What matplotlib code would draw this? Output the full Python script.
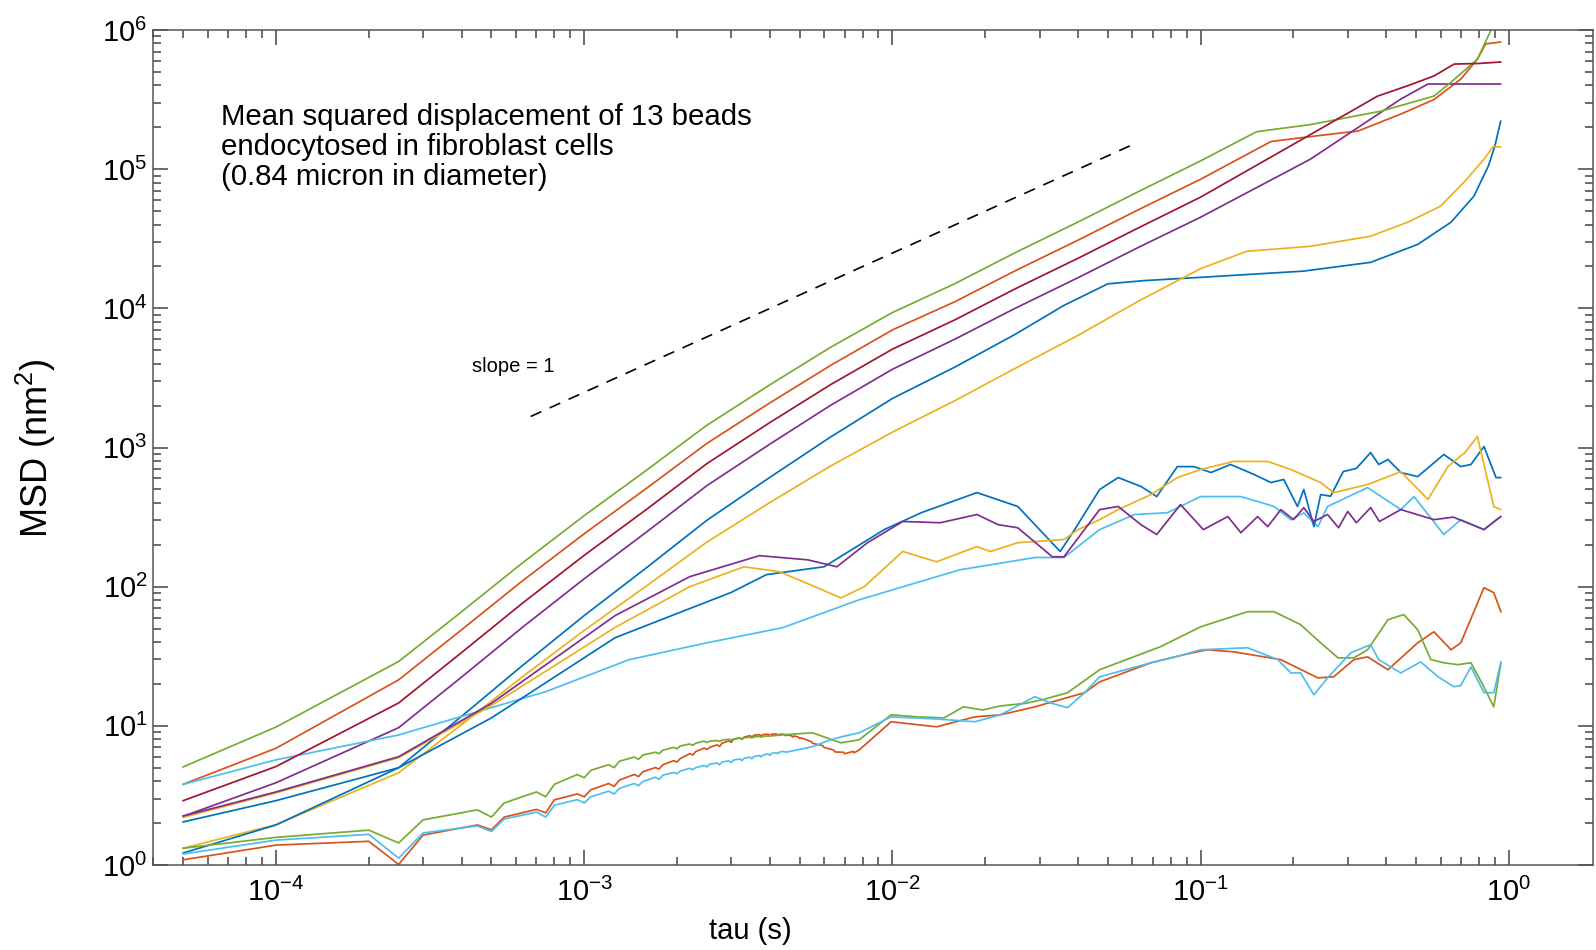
import matplotlib
matplotlib.use('Agg')
import matplotlib.pyplot as plt
from matplotlib.ticker import LogLocator, NullFormatter
import numpy as np

plt.rcParams['font.family'] = ['Liberation Sans', 'DejaVu Sans']
plt.rcParams['mathtext.fontset'] = 'custom'
plt.rcParams['mathtext.rm'] = 'Liberation Sans'
plt.rcParams['mathtext.it'] = 'Liberation Sans:italic'
plt.rcParams['mathtext.bf'] = 'Liberation Sans:bold'
plt.rcParams['axes.unicode_minus'] = False

# MATLAB default line colours
c_blue = '#0072BD'
c_orange = '#D95319'
c_yellow = '#EDB120'
c_purple = '#7E2F8E'
c_green = '#77AC30'
c_lblue = '#4DBEEE'
c_dred = '#A2142F'

# %% upper group (diffusive beads)
tau_up = [5e-5, 1e-4, 2.5e-4, 4e-4, 6.3e-4, 1e-3, 1.6e-3, 2.5e-3, 4e-3, 6.3e-3,
          1e-2, 1.6e-2, 2.5e-2, 4e-2, 6.3e-2, 0.1]

tau_green_up = tau_up + [0.152, 0.227, 0.384, 0.571, 0.65, 0.79, 0.875, 0.95]
msd_green_up = [5.07, 9.8, 29, 66, 148, 324, 692, 1445, 2820, 5250,
                9330, 15100, 25100, 41700, 69200, 114800,
                186000, 209000, 261000, 335000, 423000, 617000, 1000000, 1580000]

tau_orange_up = tau_up + [0.169, 0.235, 0.324, 0.446, 0.571, 0.698, 0.79, 0.84, 0.94]
msd_orange_up = [3.8, 6.9, 21.4, 49, 110, 240, 513, 1070, 2090, 3890,
                 7000, 11200, 18600, 30900, 51300, 84700,
                 158000, 173000, 188000, 249000, 316000, 444000, 617000, 794000, 820000]

tau_dred_up = tau_up + [0.2, 0.375, 0.47, 0.571, 0.664, 0.8, 0.94]
msd_dred_up = [2.9, 5.1, 14.6, 33.6, 76, 168, 362, 766, 1510, 2830,
               5090, 8300, 13800, 22900, 38000, 63000,
               151000, 335000, 398000, 467000, 569000, 575000, 589000]

tau_purple_up = tau_up + [0.227, 0.446, 0.546, 0.94]
msd_purple_up = [2.24, 3.9, 9.7, 22.4, 51, 114, 249, 532, 1057, 2010,
                 3650, 6030, 10000, 16600, 27500, 45200,
                 118000, 319000, 409000, 409000]

tau_blue_up = [5e-5, 1e-4, 2.5e-4, 4e-4, 6.3e-4, 1e-3, 1.6e-3, 2.5e-3, 4e-3, 6.3e-3,
               1e-2, 1.6e-2, 2.5e-2, 3.6e-2, 0.05, 0.065, 0.1,
               0.215, 0.356, 0.506, 0.649, 0.77, 0.857, 0.9, 0.94]
msd_blue_up = [2.04, 2.9, 5.0, 11.7, 27.1, 62, 138, 300, 610, 1190,
               2250, 3800, 6500, 10500, 15000, 15800, 16700,
               18500, 21400, 28800, 41600, 64000, 105000, 146000, 221000]

tau_yellow_up = tau_up + [0.141, 0.227, 0.356, 0.47, 0.6, 0.73, 0.83, 0.89, 0.94]
msd_yellow_up = [1.32, 1.95, 4.6, 10.2, 22.5, 48.5, 102, 209, 402, 736,
                 1290, 2180, 3700, 6400, 11300, 19300,
                 25700, 27900, 33000, 41600, 54200, 84700, 118000, 146000, 144000]

# %% middle group
tau_blue_mid = [5e-5, 1e-4, 2.5e-4, 5e-4, 1.26e-3, 3e-3, 3.9e-3, 6e-3, 9.4e-3, 0.0124,
                0.0188, 0.0255, 0.035, 0.039, 0.047, 0.054, 0.064, 0.072, 0.084, 0.095,
                0.108, 0.125, 0.149, 0.169, 0.186, 0.206, 0.216, 0.233, 0.245, 0.264,
                0.29, 0.32, 0.356, 0.378, 0.405, 0.446, 0.506, 0.615, 0.698, 0.753,
                0.83, 0.908, 0.94]
msd_blue_mid = [1.22, 1.94, 5.0, 11.4, 43, 91, 122, 139, 257, 340,
                474, 377, 179, 257, 499, 608, 525, 444, 729, 729,
                661, 755, 640, 560, 589, 377, 499, 270, 459, 447,
                671, 708, 920, 755, 820, 661, 618, 891, 729, 755,
                1016, 608, 608]

tau_purple_mid = [5e-5, 1e-4, 2.5e-4, 5e-4, 1.26e-3, 2.2e-3, 3.7e-3, 5.3e-3, 6.6e-3, 8.3e-3,
                  0.0108, 0.0143, 0.0188, 0.022, 0.0255, 0.033, 0.036, 0.047, 0.054, 0.064,
                  0.072, 0.086, 0.102, 0.1225, 0.135, 0.153, 0.165, 0.182, 0.2, 0.216,
                  0.233, 0.258, 0.28, 0.3, 0.32, 0.356, 0.38, 0.446, 0.571, 0.66,
                  0.83, 0.94]
msd_purple_mid = [2.25, 3.35, 6.0, 14.5, 62, 118, 167, 156, 139, 207,
                  294, 288, 330, 279, 265, 164, 164, 358, 377, 279,
                  237, 389, 257, 319, 244, 319, 270, 358, 303, 370,
                  294, 330, 265, 347, 288, 370, 294, 358, 303, 316,
                  257, 319]

tau_yellow_mid = [5e-5, 1e-4, 2.5e-4, 5e-4, 1.26e-3, 2.2e-3, 3.3e-3, 4.3e-3, 5.6e-3, 6.8e-3,
                  8.1e-3, 0.0108, 0.0139, 0.0188, 0.0208, 0.0255, 0.036, 0.04, 0.047, 0.054,
                  0.069, 0.084, 0.1, 0.128, 0.165, 0.196, 0.245, 0.27, 0.348, 0.446,
                  0.546, 0.634, 0.72, 0.79, 0.893, 0.94]
msd_yellow_mid = [2.2, 3.3, 5.9, 14, 51, 100, 139, 128, 100, 83,
                  100, 179, 151, 194, 179, 207, 218, 257, 303, 358,
                  459, 608, 695, 794, 794, 695, 560, 474, 542, 671,
                  423, 729, 920, 1200, 377, 358]

tau_lblue_mid = [5e-5, 1e-4, 2.5e-4, 7.5e-4, 1.4e-3, 2.5e-3, 4.4e-3, 7.8e-3, 0.0165, 0.029,
                 0.036, 0.047, 0.061, 0.078, 0.1, 0.135, 0.173, 0.196, 0.216, 0.24,
                 0.258, 0.348, 0.446, 0.492, 0.615, 0.698, 0.83, 0.94]
msd_lblue_mid = [3.8, 5.7, 8.6, 17.6, 29.9, 39.5, 50.7, 80.5, 132, 162,
                 162, 257, 330, 340, 444, 444, 377, 303, 339, 270,
                 377, 515, 358, 444, 237, 303, 257, 319]

# %% lower group (stuck beads, 4 kHz ripple)
tau_early = [5e-5, 1e-4, 2e-4, 2.5e-4, 3e-4, 4.5e-4, 5e-4, 5.5e-4, 7e-4, 7.5e-4,
             8e-4, 9.5e-4, 1e-3, 1.05e-3, 1.2e-3, 1.25e-3, 1.3e-3, 1.45e-3, 1.5e-3, 1.55e-3,
             1.7e-3, 1.75e-3, 1.8e-3, 1.95e-3, 2e-3, 2.05e-3, 2.2e-3, 2.25e-3, 2.3e-3, 2.45e-3,
             2.5e-3]
tau_ripple = [2.55e-3, 2.7e-3, 2.75e-3, 2.8e-3, 2.95e-3, 3e-3, 3.05e-3, 3.2e-3, 3.25e-3, 3.3e-3,
              3.45e-3, 3.5e-3, 3.55e-3, 3.7e-3, 3.75e-3, 3.8e-3, 3.95e-3, 4e-3, 4.05e-3, 4.2e-3,
              4.25e-3, 4.3e-3, 4.45e-3, 4.5e-3]

tau_green_low = tau_early + tau_ripple[:16] + [
    4e-3, 4.4e-3, 5.5e-3, 6.8e-3, 7.8e-3, 9.9e-3, 0.012, 0.0147,
    0.017, 0.0196, 0.0224, 0.027, 0.031, 0.037, 0.047, 0.074, 0.1, 0.142,
    0.173, 0.211, 0.245, 0.279, 0.314, 0.348, 0.405, 0.456, 0.506, 0.558,
    0.615, 0.683, 0.753, 0.82, 0.893, 0.942]
msd_green_low = [1.32, 1.58, 1.78, 1.44, 2.11, 2.49, 2.21, 2.79, 3.35, 3.09,
                 3.80, 4.47, 4.23, 4.79, 5.25, 5.01, 5.56, 5.96, 5.75, 6.17,
                 6.46, 6.31, 6.68, 7.0, 6.84, 7.16, 7.41, 7.24, 7.5, 7.76,
                 7.59,
                 7.75, 7.85, 7.72, 7.9, 8.0, 7.88, 8.05, 8.15, 8.02, 8.2,
                 8.3, 8.18, 8.32, 8.4, 8.28, 8.42,
                 8.45, 8.61, 8.91, 7.55, 7.94, 12.0, 11.6, 11.4,
                 13.7, 13.0, 13.9, 14.5, 15.5, 17.3, 25.3, 37.0, 51.5, 66.1,
                 66.1, 53.3, 39.5, 30.8, 30.8, 35.2, 57.9, 63.0, 49.0, 29.9,
                 28.4, 27.5, 28.4, 20.0, 13.7, 28.4]

tau_orange_low = tau_early + tau_ripple + [
    4.55e-3, 4.7e-3, 4.75e-3, 4.8e-3, 4.95e-3, 5e-3, 5.05e-3, 5.45e-3, 5.5e-3,
    5.95e-3, 6e-3, 6.45e-3, 6.5e-3, 6.95e-3, 7e-3, 7.45e-3, 7.5e-3, 7.8e-3,
    9.9e-3, 0.0139, 0.0185, 0.0224, 0.029, 0.042, 0.047, 0.069, 0.088, 0.105, 0.128,
    0.182, 0.24, 0.27, 0.314, 0.348, 0.405, 0.506, 0.571, 0.649, 0.698,
    0.83, 0.893, 0.942]
msd_orange_low = [1.09, 1.39, 1.48, 1.01, 1.64, 1.94, 1.79, 2.21, 2.51, 2.37,
                  2.94, 3.24, 3.09, 3.47, 3.85, 3.67, 4.07, 4.47, 4.32, 4.68,
                  5.01, 4.90, 5.25, 5.62, 5.50, 5.82, 6.31, 6.17, 6.53, 6.92,
                  6.76,
                  7.0, 7.3, 7.1, 7.5, 7.8, 7.6, 8.0, 8.2, 8.0, 8.3,
                  8.5, 8.3, 8.55, 8.65, 8.45, 8.65, 8.7, 8.5, 8.7, 8.75,
                  8.55, 8.7, 8.7, 8.5,
                  8.6, 8.5, 8.3, 8.45, 8.3, 8.1, 8.2, 7.7, 7.5,
                  7.2, 7.0, 6.7, 6.5, 6.45, 6.3, 6.55, 6.4, 6.71,
                  10.7, 9.84, 11.6, 12.0, 13.7, 17.3, 20.7, 28.4, 32.4, 35.2, 34.0,
                  29.9, 22.1, 22.5, 29.9, 31.3, 25.3, 39.5, 47.4, 35.2, 39.5,
                  98.4, 90.6, 66.1]

tau_lblue_low = tau_early + tau_ripple + [
    5.5e-3, 6.3e-3, 6.8e-3, 7.8e-3, 9.9e-3, 0.0139, 0.0185,
    0.0224, 0.029, 0.0326, 0.037, 0.042, 0.047, 0.069, 0.088, 0.1, 0.142,
    0.178, 0.196, 0.211, 0.233, 0.258, 0.307, 0.356, 0.378, 0.446, 0.517,
    0.589, 0.663, 0.698, 0.753, 0.83, 0.893, 0.942]
msd_lblue_low = [1.20, 1.51, 1.66, 1.12, 1.70, 1.91, 1.74, 2.14, 2.40, 2.21,
                 2.69, 2.95, 2.79, 3.09, 3.39, 3.24, 3.55, 3.85, 3.72, 3.98,
                 4.27, 4.12, 4.42, 4.62, 4.52, 4.73, 4.95, 4.84, 5.01, 5.19,
                 5.07,
                 5.30, 5.40, 5.25, 5.50, 5.60, 5.45, 5.68, 5.78, 5.62, 5.85,
                 5.95, 5.80, 6.02, 6.12, 5.98, 6.18, 6.28, 6.14, 6.33, 6.42,
                 6.30, 6.48, 6.55, 6.45,
                 7.08, 7.94, 8.32, 8.91, 11.6, 11.2, 10.7,
                 12.0, 16.2, 14.6, 13.5, 17.3, 22.5, 28.4, 32.4, 35.2, 36.4,
                 29.9, 24.0, 24.0, 16.7, 22.1, 33.5, 38.3, 29.9, 24.0, 28.8,
                 22.5, 19.1, 19.5, 26.5, 17.3, 17.3, 28.8]

# slope = 1 guide
tau_guide = [6.7e-4, 0.0593]
msd_guide = [1670, 148000]

curves = [
    (tau_blue_up, msd_blue_up, c_blue),
    (tau_orange_up, msd_orange_up, c_orange),
    (tau_yellow_up, msd_yellow_up, c_yellow),
    (tau_purple_up, msd_purple_up, c_purple),
    (tau_green_up, msd_green_up, c_green),
    (tau_lblue_mid, msd_lblue_mid, c_lblue),
    (tau_dred_up, msd_dred_up, c_dred),
    (tau_blue_mid, msd_blue_mid, c_blue),
    (tau_orange_low, msd_orange_low, c_orange),
    (tau_yellow_mid, msd_yellow_mid, c_yellow),
    (tau_purple_mid, msd_purple_mid, c_purple),
    (tau_green_low, msd_green_low, c_green),
    (tau_lblue_low, msd_lblue_low, c_lblue),
]

W, H = 1596, 950
fig = plt.figure(figsize=(W / 100, H / 100), dpi=100)
ax = fig.add_axes([153 / W, 85 / H, 1440 / W, 835 / H])

for t, m, c in curves:
    ax.plot(t, m, color=c, lw=1.25)

ax.plot(tau_guide, msd_guide, color='k', lw=1.2, dashes=(7, 5.5))

ax.set_xscale('log')
ax.set_yscale('log')
ax.set_xlim(3.99e-5, 1.874)
ax.set_ylim(1, 1e6)

ax.xaxis.set_major_locator(LogLocator(base=10, numticks=20))
ax.yaxis.set_major_locator(LogLocator(base=10, numticks=20))
ax.xaxis.set_minor_locator(LogLocator(base=10, subs=np.arange(2, 10), numticks=100))
ax.yaxis.set_minor_locator(LogLocator(base=10, subs=np.arange(2, 10), numticks=100))
ax.xaxis.set_minor_formatter(NullFormatter())
ax.yaxis.set_minor_formatter(NullFormatter())

ax.tick_params(which='both', direction='in', top=True, right=True,
               color='#444444', width=1.1)
ax.tick_params(which='major', length=10.5, labelsize=21)
ax.tick_params(which='minor', length=5.5)
ax.tick_params(axis='x', which='major', pad=9)
ax.tick_params(axis='y', which='major', pad=4)
for s in ax.spines.values():
    s.set_color('#555555')
    s.set_linewidth(1.1)

# labels and annotations
fig.text(750 / W, 1 - 931 / H, 'tau (s)', fontsize=21, ha='center', va='center')
fig.text(36 / W, 1 - 448 / H, 'MSD (nm$^2$)', fontsize=26, ha='center', va='center',
         rotation=90)

fig.text(221 / W, 1 - 125 / H, 'Mean squared displacement of 13 beads', fontsize=21.2,
         ha='left', va='baseline')
fig.text(221 / W, 1 - 155 / H, 'endocytosed in fibroblast cells', fontsize=21.2,
         ha='left', va='baseline')
fig.text(221 / W, 1 - 185 / H, '(0.84 micron in diameter)', fontsize=21.2,
         ha='left', va='baseline')
fig.text(513 / W, 1 - 366 / H, 'slope = 1', fontsize=14.5, ha='center', va='center')

fig.savefig('out.png', dpi=100)
